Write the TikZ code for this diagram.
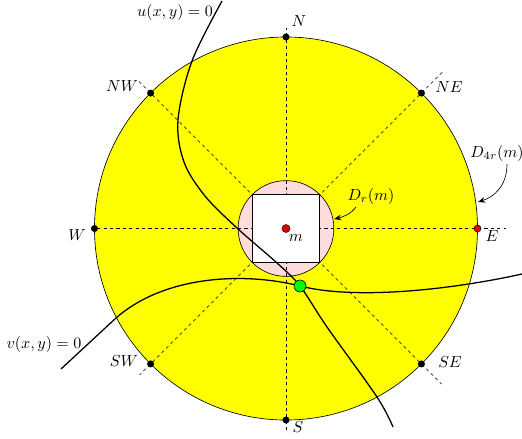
\documentclass[tikz,border=0pt]{standalone}
\usetikzlibrary{arrows.meta}
\definecolor{discyellow}{RGB}{255,255,0}
\definecolor{discpink}{RGB}{255,220,220}
\definecolor{dotgreen}{RGB}{0,255,0}
\definecolor{dotred}{RGB}{230,0,0}
\begin{document}
\begin{tikzpicture}[x=0.625pt,y=-0.625pt,
  dot/.style={circle,fill=black,inner sep=0pt,minimum size=4.4pt},
  axisline/.style={dash pattern=on 2pt off 2pt},
  curve/.style={thick},
  pointer/.style={-{Stealth[length=4.5pt,width=3.5pt]}}]
\useasboundingbox (0,0) rectangle (522,438);
\coordinate (m) at (286,228.5);
% big disc
\fill[discyellow] (m) circle[radius=119.7pt];
\draw (m) circle[radius=119.7pt];
% small disc
\filldraw[fill=discpink,draw=black] (m) circle[radius=29.92pt];
% dashed directions
\foreach \a/\l in {0/137.5,45/138.8,90/125.3,135/131.9,180/121,225/129.4,270/127.2,315/137.5}
  \draw[axisline] (m) -- ++(\a:\l pt);
% square
\node[draw,fill=white,semithick,minimum size=42.3pt,inner sep=0pt] (sq) at (m) {};
% points on circle
\foreach \a/\n in {45/NE,90/N,135/NW,180/W,225/SW,270/S,315/SE}
  \path (m) ++(\a:119.7pt) node[dot] (d\n) {};
\path (m) ++(0:119.7pt) node[dot,fill=dotred,draw=black,line width=0.3pt] (dE) {};
% labels
\node (lN) at (299,21) {$N$};
\node (lNE) at (449,87) {$NE$};
\node (lE) at (492,236) {$E$};
\node (lSE) at (450,362) {$SE$};
\node (lS) at (298,427) {$S$};
\node (lSW) at (124,361) {$SW$};
\node (lW) at (77,235) {$W$};
\node (lNW) at (122,86) {$NW$};
% centre
\node[circle,fill=dotred,draw=black,line width=0.3pt,inner sep=0pt,minimum size=5pt] (mdot) at (m) {};
\node (mlab) at (296,238) {$m$};
% curves
\draw[curve] plot[smooth,tension=0.55] coordinates {(222,1) (192,61) (178,120) (184,162) (205,196) (237,228) (277,263) (300,286) (327,327) (377,397) (393,427)};
\draw[curve] (61,369) -- (116,318) .. controls (165,275) and (245,272) .. (300,286)
  .. controls (355,300) and (450,290) .. (522,274);
\node (ulab) at (175,12) {$u(x,y)=0$};
\node (vlab) at (44,344) {$v(x,y)=0$};
% intersection point
\node[circle,fill=dotgreen,draw=black,line width=0.4pt,inner sep=0pt,minimum size=7.5pt] (p) at (300,286) {};
% disc labels
\node (Dr) at (371,196) {$D_r(m)$};
\coordinate (DrS) at (356,207);
\coordinate (DrT) at (334,219);
\draw[pointer] (DrS) .. controls (351,214) and (343,217) .. (DrT);
\node (D4r) at (497,153) {$D_{4r}(m)$};
\coordinate (D4S) at (507,164);
\coordinate (D4T) at (478,202);
\draw[pointer] (D4S) .. controls (507,186) and (494,197) .. (D4T);
\end{tikzpicture}
\end{document}
